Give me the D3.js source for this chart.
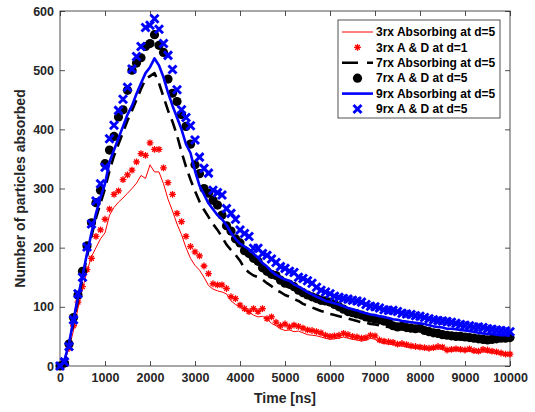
<!DOCTYPE html>
<html>
<head>
<meta charset="utf-8">
<script src="https://cdn.jsdelivr.net/npm/d3@7"></script>
<style>
  body { margin: 0; background: #fff; }
  text { font-family: "Liberation Sans", Arial, sans-serif; font-weight: bold; }
</style>
</head>
<body>
<div id="chart"></div>
<script>
// sampling grid: one sample every 100 ns
const times = d3.range(0, 10001, 100);

const xTicks = [0, 1000, 2000, 3000, 4000, 5000, 6000, 7000, 8000, 9000, 10000];
const yTicks = [0, 100, 200, 300, 400, 500, 600];

const legendLabels = [
  "3rx Absorbing at d=5",
  "3rx A & D at d=1",
  "7rx Absorbing at d=5",
  "7rx A & D at d=5",
  "9rx Absorbing at d=5",
  "9rx A & D at d=5"
];

const red3Abs = [
  0, 8, 30, 60, 98, 130, 160, 185, 200, 215,
  225, 255, 268, 277, 284, 292, 300, 309, 322, 317,
  340, 328, 328, 308, 282, 262, 240, 222, 200, 182,
  170, 162, 150, 136, 130, 127, 125, 122, 110, 104,
  100, 95, 91, 86, 83, 84, 80, 72, 68, 63,
  60, 61, 58, 59, 56, 53, 52, 51, 49, 47,
  45, 46, 47, 49, 47, 45, 44, 42, 44, 47,
  45, 40, 38, 37, 36, 34, 34, 32, 31, 30,
  29, 28, 27, 28, 29, 28, 24, 25, 26, 25,
  24, 25, 23, 22, 24, 23, 22, 21, 19, 18,
  17
];

const red3AD = [
  0, 5, 30, 68, 108, 134, 163, 182, 219, 230,
  248, 265, 290, 296, 315, 323, 331, 345, 359, 356,
  377, 366, 366, 335, 310, 290, 258, 244, 219, 202,
  193, 186, 169, 156, 139, 137, 137, 131, 117, 114,
  103, 97, 92, 97, 92, 97, 80, 83, 74, 68,
  71, 66, 69, 67, 64, 61, 60, 58, 56, 52,
  50, 51, 52, 55, 53, 50, 49, 47, 48, 52,
  51, 44, 42, 41, 40, 37, 38, 36, 34, 33,
  32, 31, 30, 31, 33, 32, 27, 28, 29, 28,
  27, 29, 26, 25, 28, 27, 25, 24, 22, 20,
  20
];

const black7Abs = [
  0, 8, 35, 75, 112, 148, 185, 220, 250, 275,
  300, 330, 355, 375, 395, 415, 432, 450, 468, 485,
  490, 495, 478, 455, 432, 413, 390, 362, 337, 315,
  296, 278, 264, 252, 240, 230, 218, 205, 196, 188,
  178, 165, 158, 153, 150, 146, 140, 135, 128, 125,
  120, 117, 113, 110, 105, 102, 99, 96, 93, 91,
  88, 86, 84, 82, 80, 78, 76, 74, 73, 71,
  70, 69, 67, 66, 64, 63, 62, 61, 61, 60,
  60, 59, 58, 57, 56, 56, 55, 54, 53, 52,
  51, 51, 50, 49, 49, 48, 48, 47, 47, 46,
  46
];

const black7AD = [
  0, 5, 37, 82, 120, 160, 203, 242, 276, 297,
  342, 365, 388, 421, 433, 466, 500, 512, 521, 540,
  545, 560, 542, 530, 485, 461, 447, 425, 405, 375,
  340, 325, 300, 292, 280, 272, 255, 237, 228, 215,
  208, 195, 190, 182, 177, 166, 160, 155, 153, 145,
  140, 138, 134, 128, 124, 120, 117, 114, 111, 110,
  108, 104, 100, 96, 92, 90, 88, 86, 83, 81,
  79, 78, 76, 74, 68, 66, 67, 65, 64, 63,
  64, 60, 58, 56, 55, 53, 52, 51, 50, 50,
  49, 48, 47, 46, 45, 44, 45, 46, 47, 47,
  48
];

const blue9Abs = [
  0, 10, 38, 78, 117, 152, 190, 225, 258, 285,
  308, 345, 365, 385, 405, 425, 440, 460, 478, 495,
  505, 520, 508, 488, 462, 440, 420, 400, 375, 360,
  330, 305, 290, 275, 265, 255, 248, 238, 225, 215,
  207, 202, 197, 190, 183, 174, 168, 160, 154, 150,
  146, 144, 138, 134, 130, 125, 121, 117, 114, 110,
  108, 106, 104, 101, 98, 96, 94, 91, 89, 87,
  86, 84, 83, 81, 79, 78, 76, 75, 74, 73,
  72, 71, 69, 67, 66, 65, 63, 63, 62, 61,
  60, 59, 58, 56, 55, 54, 54, 53, 52, 52,
  51
];

const blue9AD = [
  0, 7, 33, 78, 122, 150, 201, 240, 279, 308,
  336, 384, 407, 432, 451, 471, 502, 523, 540, 572,
  576, 587, 569, 545, 525, 501, 467, 433, 420, 406,
  382, 353, 334, 326, 297, 293, 289, 266, 258, 248,
  230, 224, 219, 199, 199, 190, 187, 181, 175, 168,
  165, 160, 158, 150, 148, 144, 140, 133, 128, 125,
  122, 118, 116, 114, 113, 111, 110, 108, 104, 101,
  100, 98, 95, 94, 94, 92, 89, 88, 87, 85,
  84, 82, 80, 78, 77, 76, 75, 74, 72, 70,
  69, 68, 66, 66, 65, 63, 62, 61, 60, 59,
  58
];

const W = 535, H = 412;
const plot = { left: 60, right: 510, top: 11, bottom: 366 };
const axisColor = "#262626";

const svg = d3.select("#chart").append("svg")
  .attr("width", W)
  .attr("height", H);

svg.append("rect").attr("width", W).attr("height", H).attr("fill", "#fff");

const x = d3.scaleLinear().domain([0, 10000]).range([plot.left, plot.right]);
const y = d3.scaleLinear().domain([0, 600]).range([plot.bottom, plot.top]);

// axes, matlab style: inward ticks on every side
function styleAxis(g) {
  g.select(".domain").remove();
  g.selectAll(".tick line").attr("stroke", axisColor).attr("stroke-width", 0.8);
  g.selectAll(".tick text")
    .attr("fill", axisColor)
    .style("font-size", "12.5px")
    .style("font-family", "'Liberation Sans', Arial, sans-serif")
    .style("font-weight", "bold");
}

svg.append("g")
  .attr("transform", `translate(0,${plot.bottom})`)
  .call(d3.axisBottom(x).tickValues(xTicks).tickSizeInner(-5).tickSizeOuter(0).tickPadding(7).tickFormat(d3.format("d")))
  .call(styleAxis);

svg.append("g")
  .attr("transform", `translate(0,${plot.top})`)
  .call(d3.axisTop(x).tickValues(xTicks).tickSizeInner(-5).tickSizeOuter(0).tickFormat(""))
  .call(styleAxis);

svg.append("g")
  .attr("transform", `translate(${plot.left},0)`)
  .call(d3.axisLeft(y).tickValues(yTicks).tickSizeInner(-5).tickSizeOuter(0).tickPadding(6))
  .call(styleAxis);

svg.append("g")
  .attr("transform", `translate(${plot.right},0)`)
  .call(d3.axisRight(y).tickValues(yTicks).tickSizeInner(-5).tickSizeOuter(0).tickFormat(""))
  .call(styleAxis);

svg.append("rect")
  .attr("x", plot.left)
  .attr("y", plot.top)
  .attr("width", plot.right - plot.left)
  .attr("height", plot.bottom - plot.top)
  .attr("fill", "none")
  .attr("stroke", axisColor)
  .attr("stroke-width", 0.8);

// axis labels
svg.append("text")
  .attr("x", (plot.left + plot.right) / 2)
  .attr("y", 403)
  .attr("text-anchor", "middle")
  .attr("fill", axisColor)
  .style("font-size", "14px")
  .text("Time [ns]");

svg.append("text")
  .attr("transform", `translate(25,${(plot.top + plot.bottom) / 2}) rotate(-90)`)
  .attr("text-anchor", "middle")
  .attr("fill", axisColor)
  .style("font-size", "14px")
  .text("Number of particles absorbed");

// marker shapes
const starPath = s => `M${-s},0L${s},0M0,${-s}L0,${s}M${-s * 0.7},${-s * 0.7}L${s * 0.7},${s * 0.7}M${-s * 0.7},${s * 0.7}L${s * 0.7},${-s * 0.7}`;
const crossPath = s => `M${-s},${-s}L${s},${s}M${-s},${s}L${s},${-s}`;

const line = d3.line().x((d, i) => x(times[i])).y(d => y(d));

const plotArea = svg.append("g");

function drawLine(values, color, width, dash) {
  plotArea.append("path")
    .datum(values)
    .attr("d", line)
    .attr("fill", "none")
    .attr("stroke", color)
    .attr("stroke-width", width)
    .attr("stroke-linejoin", "round")
    .attr("stroke-dasharray", dash || null);
}

// 3rx
drawLine(red3Abs, "#ff0000", 1);
plotArea.append("g").selectAll("path")
  .data(red3AD)
  .join("path")
  .attr("transform", (d, i) => `translate(${x(times[i])},${y(d)})`)
  .attr("d", starPath(3.4))
  .attr("stroke", "#ff0000")
  .attr("stroke-width", 1.3)
  .attr("fill", "none");

// 7rx
drawLine(black7Abs, "#000", 2.6, "12,7");
plotArea.append("g").selectAll("circle")
  .data(black7AD)
  .join("circle")
  .attr("cx", (d, i) => x(times[i]))
  .attr("cy", d => y(d))
  .attr("r", 4.6)
  .attr("fill", "#000");

// 9rx
drawLine(blue9Abs, "#0000ff", 2.6);
plotArea.append("g").selectAll("path")
  .data(blue9AD)
  .join("path")
  .attr("transform", (d, i) => `translate(${x(times[i])},${y(d)})`)
  .attr("d", crossPath(4))
  .attr("stroke", "#0000ff")
  .attr("stroke-width", 2.9)
  .attr("fill", "none");

// legend
const legend = svg.append("g");
legend.append("rect")
  .attr("x", 338).attr("y", 20)
  .attr("width", 162).attr("height", 98)
  .attr("fill", "#fff")
  .attr("stroke", axisColor)
  .attr("stroke-width", 0.8);

const rowY = i => 32 + i * 15.4;
const sx0 = 342, sx1 = 373, smid = (sx0 + sx1) / 2;

legendLabels.forEach((label, i) => {
  const ly = rowY(i);
  if (i === 0) {
    legend.append("line").attr("x1", sx0).attr("x2", sx1).attr("y1", ly).attr("y2", ly)
      .attr("stroke", "#ff0000").attr("stroke-width", 1);
  } else if (i === 1) {
    legend.append("path").attr("transform", `translate(${smid},${ly})`).attr("d", starPath(3.4))
      .attr("stroke", "#ff0000").attr("stroke-width", 1.3);
  } else if (i === 2) {
    legend.append("line").attr("x1", sx0).attr("x2", sx1).attr("y1", ly).attr("y2", ly)
      .attr("stroke", "#000").attr("stroke-width", 2.6).attr("stroke-dasharray", "16,9");
  } else if (i === 3) {
    legend.append("circle").attr("cx", smid).attr("cy", ly).attr("r", 4.6).attr("fill", "#000");
  } else if (i === 4) {
    legend.append("line").attr("x1", sx0).attr("x2", sx1).attr("y1", ly).attr("y2", ly)
      .attr("stroke", "#0000ff").attr("stroke-width", 2.6);
  } else {
    legend.append("path").attr("transform", `translate(${smid},${ly})`).attr("d", crossPath(4))
      .attr("stroke", "#0000ff").attr("stroke-width", 2.9);
  }
  legend.append("text")
    .attr("x", 376)
    .attr("y", ly)
    .attr("dy", "0.35em")
    .attr("fill", "#000")
    .style("font-size", "12px")
    .text(label);
});
</script>
</body>
</html>
